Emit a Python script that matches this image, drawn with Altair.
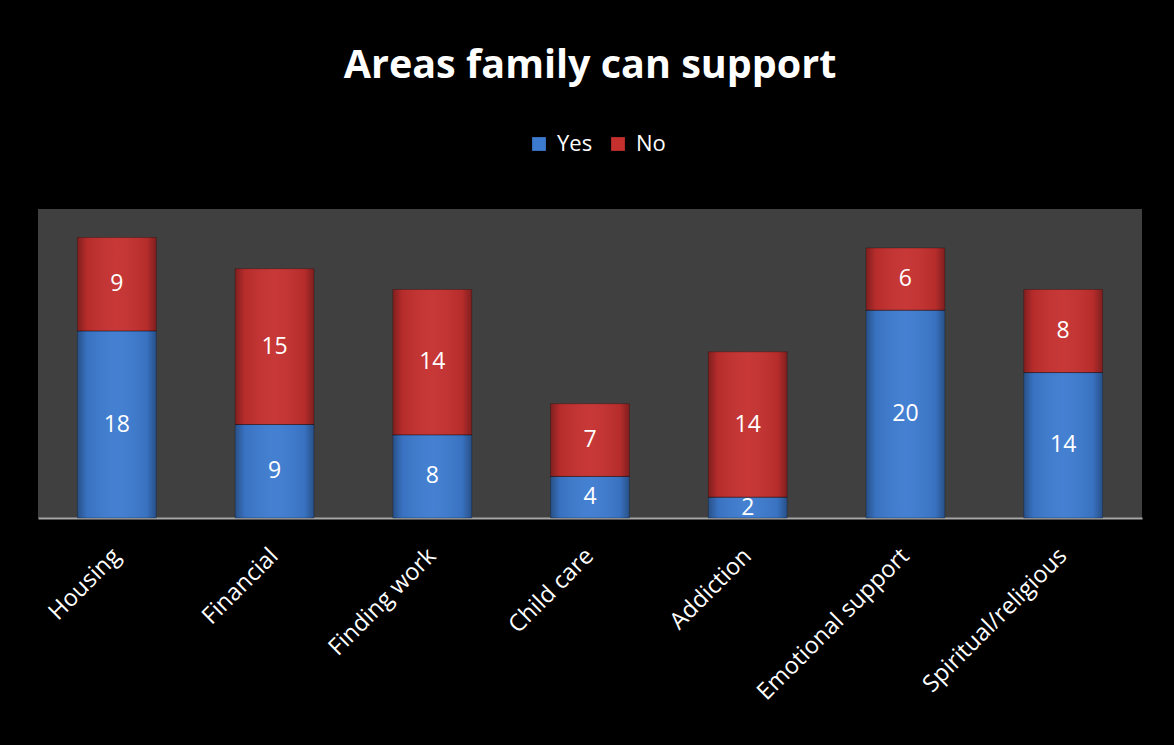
import altair as alt
import pandas as pd

categories = ["Housing", "Financial", "Finding work", "Child care", "Addiction",
              "Emotional support", "Spiritual/religious"]
yes_values = [18, 9, 8, 4, 2, 20, 14]
no_values = [9, 15, 14, 7, 14, 6, 8]
series = ["Yes", "No"]
colors = ["#3d7bd0", "#c5302f"]

rows = []
for c, y, n in zip(categories, yes_values, no_values):
    rows.append({"category": c, "series": "Yes", "value": y, "ord": 0})
    rows.append({"category": c, "series": "No", "value": n, "ord": 1})
df = pd.DataFrame(rows)

W, H = 1104, 309

xenc = alt.X("category:N", sort=categories, title=None,
             scale=alt.Scale(paddingInner=0.5, paddingOuter=0.25),
             axis=alt.Axis(labelAngle=-45, labelAlign="right", labelBaseline="middle",
                           labelPadding=34, ticks=False, domainColor="#a6a6a6",
                           domainWidth=2, labelColor="white", labelFontSize=23.5,
                           labelFont="Open Sans", labelLimit=400))
yscale = alt.Scale(domain=[0, 29.75], nice=False)
yenc = alt.Y("value:Q", stack="zero", scale=yscale, axis=None)

base = alt.Chart(df)

bars = base.mark_bar().encode(
    x=xenc,
    y=yenc,
    color=alt.Color("series:N", sort=series,
                    scale=alt.Scale(domain=series, range=colors),
                    legend=alt.Legend(title=None, orient="none", direction="horizontal",
                                      legendX=490, legendY=-76, symbolType="square",
                                      symbolSize=190, symbolStrokeWidth=0,
                                      labelColor="white", labelFontSize=22,
                                      labelFont="Open Sans", columnPadding=14,
                                      labelOffset=7)),
    order=alt.Order("ord:Q"),
)

shade = alt.Gradient(
    gradient="linear", x1=0, x2=1, y1=0, y2=0,
    stops=[alt.GradientStop(offset=0, color="rgba(0,0,0,0.35)"),
           alt.GradientStop(offset=0.12, color="rgba(0,0,0,0.08)"),
           alt.GradientStop(offset=0.5, color="rgba(255,255,255,0.04)"),
           alt.GradientStop(offset=0.88, color="rgba(0,0,0,0.08)"),
           alt.GradientStop(offset=1, color="rgba(0,0,0,0.35)")])

overlay = base.mark_bar(fill=shade, stroke="rgba(0,0,0,0.35)", strokeWidth=0.8).encode(
    x=alt.X("category:N", sort=categories),
    y=yenc,
    detail="series:N",
    order=alt.Order("ord:Q"),
)

labels = base.transform_stack(
    stack="value", groupby=["category"], as_=["v0", "v1"],
    sort=[alt.SortField("ord", order="ascending")]
).transform_calculate(
    mid="(datum.v0 + datum.v1) / 2"
).mark_text(color="white", fontSize=23, font="Open Sans", baseline="middle").encode(
    x=alt.X("category:N", sort=categories),
    y=alt.Y("mid:Q", scale=yscale),
    text=alt.Text("value:Q"),
)

chart = alt.layer(bars, overlay, labels).properties(
    width=W, height=H,
    title=alt.Title("Areas family can support", color="white", fontSize=39.5,
                    font="Open Sans", fontWeight="bold", anchor="middle", offset=47),
    padding={"left": 38, "top": 209, "right": 32, "bottom": 227},
    autosize=alt.AutoSizeParams(type="none"),
    background="black",
).configure_view(fill="#404040", stroke=None)

chart.save("out.html", embed_options={"renderer": "svg", "actions": False})
